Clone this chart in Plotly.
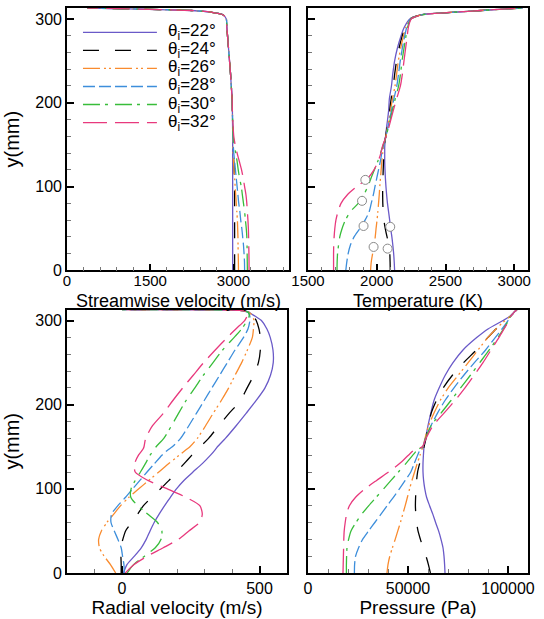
import plotly.graph_objects as go

# ---------------- data ----------------
Y = [0, 10, 20, 30, 40, 50, 60, 70, 80, 90, 100, 110, 120, 130, 140, 147, 150, 160,
     175, 190, 205, 220, 235, 250, 265, 280, 290, 300, 305, 308, 310, 312, 313]

angles = ["22", "24", "26", "28", "30", "32"]

u_top = [2980, 2975, 2960, 2946, 2928, 2910, 2892, 2880, 2870, 2810, 2600, 2250, 1120, 370]
u_22 = [2985] * 18 + [2983] + u_top
u_24 = [3020, 3020, 3020, 3020, 3020, 3020, 3020, 3020, 3020, 3020, 3020, 3018, 3012, 3005, 2996, 2992, 2990, 2987, 2984] + u_top
u_26 = [3090, 3088, 3085, 3082, 3080, 3075, 3070, 3060, 3050, 3040, 3030, 3020, 3010, 3000, 2993, 2989, 2988, 2986, 2984] + u_top
u_28 = [3200, 3198, 3190, 3180, 3165, 3150, 3130, 3115, 3095, 3080, 3065, 3050, 3035, 3020, 3005, 2998, 2995, 2988, 2985] + u_top
u_30 = [3250, 3248, 3246, 3244, 3240, 3230, 3215, 3200, 3180, 3160, 3140, 3110, 3085, 3065, 3040, 3022, 3015, 2995, 2985] + u_top
u_32 = [3280, 3280, 3278, 3275, 3272, 3268, 3260, 3250, 3240, 3225, 3200, 3175, 3145, 3105, 3065, 3040, 3030, 3005, 2990] + u_top

T_top = [2570, 2760, 2950, 3060]
T_22 = [2130, 2127, 2123, 2117, 2110, 2101, 2094, 2086, 2078, 2072, 2067, 2063, 2060, 2058, 2058, 2058, 2059, 2064,
        2075, 2086, 2092, 2107, 2117, 2130, 2150, 2177, 2200, 2240, 2330] + T_top
T_24 = [2098, 2097, 2095, 2090, 2075, 2062, 2052, 2047, 2044, 2043, 2043, 2045, 2047, 2049, 2051, 2053, 2055, 2065,
        2079, 2093, 2105, 2120, 2131, 2144, 2162, 2186, 2206, 2242, 2331] + T_top
T_26 = [1955, 1960, 1970, 1982, 1989, 1995, 2002, 2008, 2013, 2018, 2022, 2027, 2032, 2037, 2043, 2048, 2052, 2066,
        2083, 2099, 2115, 2133, 2145, 2157, 2174, 2195, 2212, 2245, 2332] + T_top
T_28 = [1775, 1782, 1792, 1808, 1835, 1877, 1915, 1945, 1960, 1975, 1987, 2000, 2013, 2026, 2037, 2045, 2050, 2067,
        2087, 2106, 2125, 2146, 2159, 2171, 2186, 2204, 2218, 2247, 2333] + T_top
T_30 = [1711, 1712, 1715, 1722, 1731, 1748, 1772, 1808, 1865, 1905, 1935, 1958, 1983, 2007, 2027, 2042, 2048, 2068,
        2091, 2112, 2135, 2159, 2173, 2184, 2198, 2213, 2224, 2250, 2334] + T_top
T_32 = [1686, 1686, 1686, 1687, 1690, 1695, 1703, 1718, 1740, 1785, 1855, 1935, 1980, 2010, 2030, 2040, 2045, 2069,
        2095, 2119, 2145, 2172, 2187, 2198, 2210, 2222, 2230, 2252, 2335] + T_top

mark_T = [1917, 1893, 1904, 1977, 2098, 2079]
mark_y = [108, 83, 53, 28, 52, 26]

v_22 = [5, 18, 45, 70, 88, 102, 117, 135, 155, 176, 198, 225, 258, 292, 322, 340, 347, 376,
        415, 452, 488, 520, 540, 550, 549, 539, 527, 507, 485, 470, 462, 430, 0]
v_24 = [-3, -3, -4, -5, 3, 13, 35, 57, 78, 108, 140, 171, 198, 226, 254, 274, 284, 315,
        352, 390, 431, 455, 479, 496, 503, 503, 498, 488, 478, 468, 460, 428, 0]
v_26 = [-23, -42, -65, -82, -85, -75, -55, -30, -5, 25, 61, 97, 134, 170, 208, 235, 247, 274,
        304, 332, 361, 388, 411, 435, 456, 474, 478, 480, 475, 468, 460, 428, 0]
v_28 = [8, 7, 2, -3, -15, -28, -40, -38, -15, 13, 39, 65, 91, 118, 145, 170, 183, 213,
        243, 271, 299, 327, 355, 383, 411, 442, 458, 465, 465, 462, 458, 428, 0]
v_30 = [19, 42, 82, 121, 142, 145, 129, 93, 57, 32, 33, 48, 67, 85, 102, 118, 124, 152,
        180, 206, 233, 265, 296, 331, 366, 408, 435, 455, 462, 462, 458, 428, 0]
v_32 = [12, 44, 92, 150, 205, 243, 282, 292, 283, 232, 165, 94, 48, 46, 60, 76, 80, 86,
        111, 151, 185, 221, 259, 297, 339, 383, 414, 446, 455, 460, 458, 428, 0]

p_22 = [68500, 68300, 68000, 67500, 66500, 65300, 63800, 62400, 60800, 59300, 58400, 57800, 57500, 57500, 57700, 57900, 58000, 58800,
        60000, 61400, 63000, 65600, 68600, 72500, 77500, 84500, 90000, 97500, 101000, 102300, 103100, 104000, 104500]
p_24 = [61200, 60200, 59000, 57500, 56200, 55000, 54300, 53900, 53700, 53800, 54000, 54300, 54800, 55800, 56800, 57700, 58000, 59000,
        60200, 61600, 64200, 67600, 72200, 77800, 84200, 90000, 94000, 98600, 101200, 102400, 103100, 104000, 104500]
p_26 = [39500, 40000, 40900, 42200, 43600, 44900, 46200, 47400, 48600, 49700, 50800, 52000, 53300, 54600, 56000, 57000, 57500, 58500,
        60300, 63000, 66100, 70100, 75100, 80100, 85000, 90000, 94000, 98500, 101200, 102400, 103100, 104000, 104500]
p_28 = [23200, 23300, 23800, 25300, 27300, 30300, 33400, 36500, 39600, 42700, 45700, 48600, 51400, 53100, 54800, 56200, 57400, 58700,
        61500, 64750, 68500, 73000, 77900, 83200, 88800, 93700, 97000, 100000, 101300, 102400, 103100, 104000, 104500]
p_30 = [19200, 19200, 19300, 19500, 20300, 21500, 24000, 26900, 30400, 34100, 37800, 41500, 45200, 48900, 52400, 55000, 57300, 58800,
        61500, 66500, 71500, 76300, 81200, 85900, 90600, 95000, 97800, 100200, 101300, 102400, 103100, 104000, 104500]
p_32 = [17500, 17600, 17700, 17800, 17900, 18100, 18600, 19300, 20700, 23800, 28500, 34300, 40300, 45800, 50200, 53500, 57200, 59000,
        62500, 68000, 73500, 78500, 83100, 87500, 91500, 95500, 98000, 100500, 101300, 102400, 103100, 104000, 104500]

# ---------------- styles ----------------
colors = ["#6a5ac8", "#000000", "#f98b2e", "#3d8edb", "#38bd3a", "#e8397d"]
dashes = ["solid", "16px,16px", "17px,4px,2px,3px,2px,4px", "12px,4px", "17px,5px,3px,7px", "24px,8px"]

U = [u_22, u_24, u_26, u_28, u_30, u_32]
T = [T_22, T_24, T_26, T_28, T_30, T_32]
V = [v_22, v_24, v_26, v_28, v_30, v_32]
P = [p_22, p_24, p_26, p_28, p_30, p_32]

FONT = "Arial, Liberation Sans, sans-serif"
fig = go.Figure()

panels = [(U, "x", "y"), (T, "x2", "y2"), (V, "x3", "y3"), (P, "x4", "y4")]
for k, (data, xa, ya) in enumerate(panels):
    for i, a in enumerate(angles):
        fig.add_trace(go.Scatter(
            x=data[i], y=Y, xaxis=xa, yaxis=ya, mode="lines",
            line=dict(color=colors[i], width=1.3, dash=dashes[i], shape="spline", smoothing=0.7),
            name="θi=" + a + "°", showlegend=False,
        ))

fig.add_trace(go.Scatter(
    x=mark_T, y=mark_y, xaxis="x2", yaxis="y2", mode="markers", showlegend=False,
    marker=dict(symbol="circle", size=9, color="white", line=dict(color="#8a8a8a", width=1)),
))

# legend (key lines + labels) inside the first panel
leg_x0, leg_x1, leg_tx = 0.072, 0.405, 0.445
row_y0, row_dy = 0.907, 0.0687
for i, a in enumerate(angles):
    yy = row_y0 - i * row_dy
    fig.add_shape(type="line", xref="x domain", yref="y domain", x0=leg_x0, x1=leg_x1, y0=yy, y1=yy,
                  line=dict(color=colors[i], width=1.3, dash=dashes[i]))
    fig.add_annotation(xref="x domain", yref="y domain", x=leg_tx, y=yy, showarrow=False,
                       xanchor="left", yanchor="middle", text="θ<sub>i</sub>=" + a + "°",
                       font=dict(family=FONT, size=17, color="black"))

L, R, TOP, B = 67, 16, 6, 36
W, H = 544, 619
pw, ph = W - L - R, H - TOP - B


def dx(a, b):
    return [(a - L) / pw, (b - L) / pw]


def dy(top, bot):
    return [(H - B - bot) / ph, (H - B - top) / ph]


ax_common = dict(showline=True, linecolor="black", linewidth=1.6, mirror=True, ticks="inside",
                 ticklen=7, tickwidth=1.5, tickcolor="black", showgrid=False, zeroline=False,
                 tickfont=dict(family=FONT, size=16, color="black"),
                 title_font=dict(family=FONT, size=19, color="black"))
title_font = dict(family=FONT, size=18, color="black")
ytitle_font = dict(family=FONT, size=20, color="black")
top_tick_font = dict(family=FONT, size=15, color="black")
minor_y = dict(dtick=20, ticklen=4, tickcolor="#777777", ticks="inside", tickwidth=1)


def minor_x(d):
    return dict(dtick=d, ticklen=4, tickcolor="#777777", ticks="inside", tickwidth=1)


fig.update_layout(
    width=W, height=H, margin=dict(l=L, r=R, t=TOP, b=B),
    paper_bgcolor="white", plot_bgcolor="white", showlegend=False,
    xaxis=dict(domain=dx(67, 289), range=[0, 4000], dtick=1500, tick0=0, minor=minor_x(300),
               ticklabelstandoff=-4, anchor="y", **ax_common),
    yaxis=dict(domain=dy(6, 274), range=[0, 313], dtick=100, minor=minor_y,
               anchor="x", **ax_common),
    xaxis2=dict(domain=dx(308, 528), range=[1500, 3100], dtick=500, tick0=1500, minor=minor_x(100),
                ticklabelstandoff=-4, anchor="y2", **ax_common),
    yaxis2=dict(domain=dy(6, 274), range=[0, 313], dtick=100, minor=minor_y, showticklabels=False,
                anchor="x2", **ax_common),
    xaxis3=dict(domain=dx(67, 287), range=[-200, 600], dtick=500, tick0=0, minor=minor_x(100),
                title=dict(text="Radial velocity (m/s)", standoff=3), anchor="y3", **ax_common),
    yaxis3=dict(domain=dy(314, 583), range=[0, 313], dtick=100, minor=minor_y,
                anchor="x3", **ax_common),
    xaxis4=dict(domain=dx(308, 528), range=[0, 110000], dtick=50000, tick0=0, tickformat="d",
                minor=minor_x(10000),
                title=dict(text="Pressure (Pa)", standoff=3), anchor="y4", **ax_common),
    yaxis4=dict(domain=dy(314, 583), range=[0, 313], dtick=100, minor=minor_y, showticklabels=False,
                anchor="x4", **ax_common),
)
fig.update_xaxes(tickfont=top_tick_font, selector=dict(anchor="y"))
fig.update_xaxes(tickfont=top_tick_font, selector=dict(anchor="y2"))
fig.update_yaxes(title=dict(text="y(mm)", standoff=10, font=ytitle_font), selector=dict(anchor="x"))
fig.update_yaxes(title=dict(text="y(mm)", standoff=10, font=ytitle_font), selector=dict(anchor="x3"))

# x titles of the upper panels, placed just under their tick labels
top_title_y = (274 - 305) / 268
fig.add_annotation(xref="x domain", yref="y domain", x=0.5, y=top_title_y, showarrow=False,
                   xanchor="center", yanchor="middle", text="Streamwise velocity (m/s)", font=title_font)
fig.add_annotation(xref="x2 domain", yref="y2 domain", x=0.5, y=top_title_y, showarrow=False,
                   xanchor="center", yanchor="middle", text="Temperature (K)", font=title_font)

fig.write_html("out.html")
